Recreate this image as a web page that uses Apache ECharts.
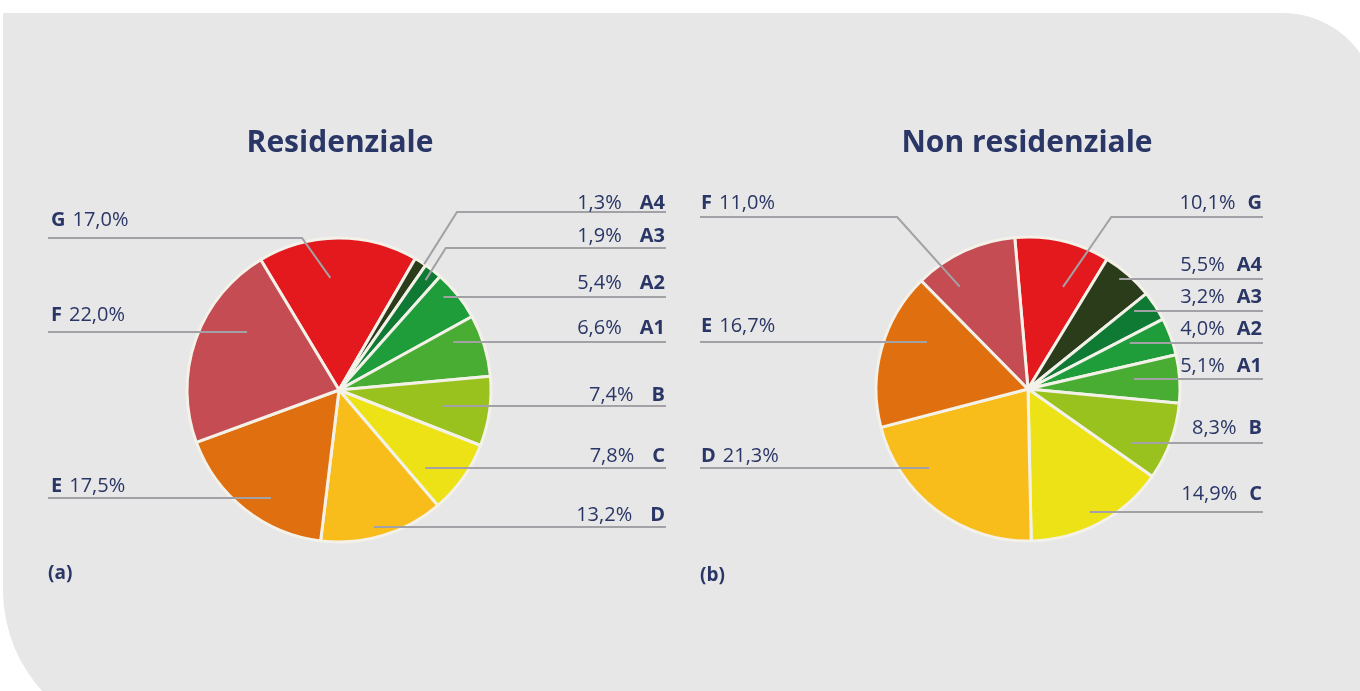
<!DOCTYPE html>
<html><head><meta charset="utf-8">
<script src="https://cdn.jsdelivr.net/npm/echarts@6/dist/echarts.min.js"></script>
<style>html,body{margin:0;padding:0;background:#fff}#c{width:1360px;height:691px}</style>
</head><body><div id="c"></div>
<script>
// ---- data ----
const classes = ['G','A4','A3','A2','A1','B','C','D','E','F'];
const residenziale = [17.0, 1.3, 1.9, 5.4, 6.6, 7.4, 7.8, 13.2, 17.5, 22.0];
const nonResidenziale = [10.1, 5.5, 3.2, 4.0, 5.1, 8.3, 14.9, 21.3, 16.7, 11.0];
const titles = ['Residenziale', 'Non residenziale'];
const panelTags = ['(a)', '(b)'];

// ---- styles ----
const classColors = {
  G: '#e3191e', F: '#c44c52', E: '#e06f10', D: '#f9bd1b', C: '#ece215',
  B: '#9ac21f', A1: '#49ad33', A2: '#1f9d3a', A3: '#0e7a33', A4: '#2a3c1a'
};
const NAVY = '#2a3666';
const FONT = 'Open Sans';

// ---- layout (label placement) ----
const layoutA = {
  center: [339, 390], radius: 152, startAngle: 121,
  textLeft: 51, textRight: 665, lineLeft: 48, lineRight: 666, gapMid: 18,
  labels: [
    {side:'L', y:238, f:0.74, da:4, k:0.71, g:11},   // G
    {side:'R', y:212, f:1.0, da:-1.6, k:0.63, g:2},  // A4
    {side:'R', y:248, f:0.92, da:0, k:0.63, g:5},    // A3
    {side:'R', y:297, f:0.92, g:7},                  // A2
    {side:'R', y:342, f:0.815, g:7},                 // A1
    {side:'R', y:406, f:0.69, g:4},                  // B
    {side:'R', y:468, f:0.765, g:5},                 // C
    {side:'R', y:527, f:0.93, g:5},                  // D
    {side:'L', y:498, f:0.84, g:5},                  // E
    {side:'L', y:332, f:0.715, g:10}                 // F
  ]
};
const layoutB = {
  center: [1028, 389], radius: 152, startAngle: 95,
  textLeft: 701, textRight: 1262, lineLeft: 700, lineRight: 1263, gapMid: 12,
  labels: [
    {side:'R', y:217, f:0.71, da:-5.8, k:0.69, g:7}, // G
    {side:'R', y:279, f:0.94, g:7},                  // A4
    {side:'R', y:311, f:0.866, g:7},                 // A3
    {side:'R', y:343, f:0.735, g:7},                 // A2
    {side:'R', y:379, f:0.70, g:6},                  // A1
    {side:'R', y:443, f:0.77, g:8},                  // B
    {side:'R', y:512, f:0.905, g:11},                // C
    {side:'L', y:468, f:0.833, g:5},                 // D
    {side:'L', y:342, f:0.733, g:9},                 // E
    {side:'L', y:217, f:0.81, da:8.9, k:0.9, g:7}    // F
  ]
};

function fmt(v){ return v.toFixed(1).replace('.', ',') + '%'; }

function makeLabelLayout(values, cfg){
  const total = values.reduce((a,b)=>a+b,0);
  const cum = []; let acc = 0;
  values.forEach(v => { cum.push(acc); acc += v; });
  return function(params){
    const i = params.dataIndex;
    const L = cfg.labels[i];
    const cx = cfg.center[0], cy = cfg.center[1], R = cfg.radius;
    const left = L.side === 'L';
    let p0, p1;
    if (L.k != null) {
      const mid = cfg.startAngle - (cum[i] + values[i]/2)/total*360 + (L.da || 0);
      const rad = mid*Math.PI/180;
      p0 = [cx + L.f*R*Math.cos(rad), cy - L.f*R*Math.sin(rad)];
      const dx = (p0[1] - L.y) * L.k * (left ? -1 : 1);
      p1 = [p0[0] + dx, L.y];
    } else {
      const dy = L.y - cy, rr = L.f*R;
      const dx = Math.sqrt(Math.max(rr*rr - dy*dy, 0));
      p0 = [cx + (left ? -dx : dx), L.y];
      p1 = [p0[0], L.y];
    }
    const p2 = [left ? cfg.lineLeft : cfg.lineRight, L.y];
    return {
      x: left ? cfg.textLeft : cfg.textRight,
      y: L.y - L.g + 3,
      align: left ? 'left' : 'right',
      verticalAlign: 'bottom',
      labelLinePoints: [p0, p1, p2]
    };
  };
}

function baseSeries(values, cfg){
  return {
    type: 'pie', z: 2,
    center: cfg.center, radius: cfg.radius, startAngle: cfg.startAngle,
    clockwise: true, silent: true,
    data: classes.map((c, i) => ({ name: c, value: values[i], itemStyle: { color: classColors[c] } })),
    itemStyle: { borderColor: '#f3f1e8', borderWidth: 3 },
    label: { show: false }, labelLine: { show: false }
  };
}

function labelSeries(values, cfg){
  return {
    type: 'pie', z: 5,
    center: cfg.center, radius: cfg.radius, startAngle: cfg.startAngle,
    clockwise: true, avoidLabelOverlap: false, silent: true,
    data: classes.map((c, i) => ({ name: c, value: values[i] })),
    itemStyle: { color: 'rgba(0,0,0,0)', borderWidth: 0 },
    label: {
      show: true,
      position: 'outside',
      formatter: function(p){
        const left = cfg.labels[p.dataIndex].side === 'L';
        return left ? '{b|' + p.name + '}{t| }{v|' + fmt(p.value) + '}'
                    : '{v|' + fmt(p.value) + '}{s| }{b|' + p.name + '}';
      },
      rich: {
        v: { fontFamily: FONT, fontSize: 20, fontWeight: 400, color: NAVY, lineHeight: 20 },
        b: { fontFamily: FONT, fontSize: 20, fontWeight: 700, color: NAVY, lineHeight: 20 },
        s: { width: cfg.gapMid, lineHeight: 20, fontSize: 20 },
        t: { width: 7, lineHeight: 20, fontSize: 20 }
      }
    },
    labelLine: {
      show: true, showAbove: true, length: 10, length2: 10, smooth: false,
      lineStyle: { color: '#a2a2a6', width: 2 }
    },
    labelLayout: makeLabelLayout(values, cfg)
  };
}

const chart = echarts.init(document.getElementById('c'), null, { renderer: 'canvas' });
chart.setOption({
  animation: false,
  backgroundColor: '#ffffff',
  graphic: [
    { type: 'rect', z: -10, silent: true,
      shape: { x: 3, y: 13, width: 1374, height: 727, r: [0, 94, 0, 150] },
      style: { fill: '#e7e7e7' } },
    { type: 'text', silent: true, style: { x: 340, y: 143, text: titles[0], align: 'center', verticalAlign: 'middle',
      font: 'bold 30px "Open Sans"', fill: NAVY } },
    { type: 'text', silent: true, style: { x: 1027, y: 143, text: titles[1], align: 'center', verticalAlign: 'middle',
      font: 'bold 30px "Open Sans"', fill: NAVY } },
    { type: 'text', silent: true, style: { x: 48, y: 574, text: panelTags[0], align: 'left', verticalAlign: 'middle',
      font: 'bold 19px "Open Sans"', fill: NAVY } },
    { type: 'text', silent: true, style: { x: 700, y: 576, text: panelTags[1], align: 'left', verticalAlign: 'middle',
      font: 'bold 19px "Open Sans"', fill: NAVY } }
  ],
  series: [
    baseSeries(residenziale, layoutA), baseSeries(nonResidenziale, layoutB),
    labelSeries(residenziale, layoutA), labelSeries(nonResidenziale, layoutB)
  ]
});
</script>
</body></html>
